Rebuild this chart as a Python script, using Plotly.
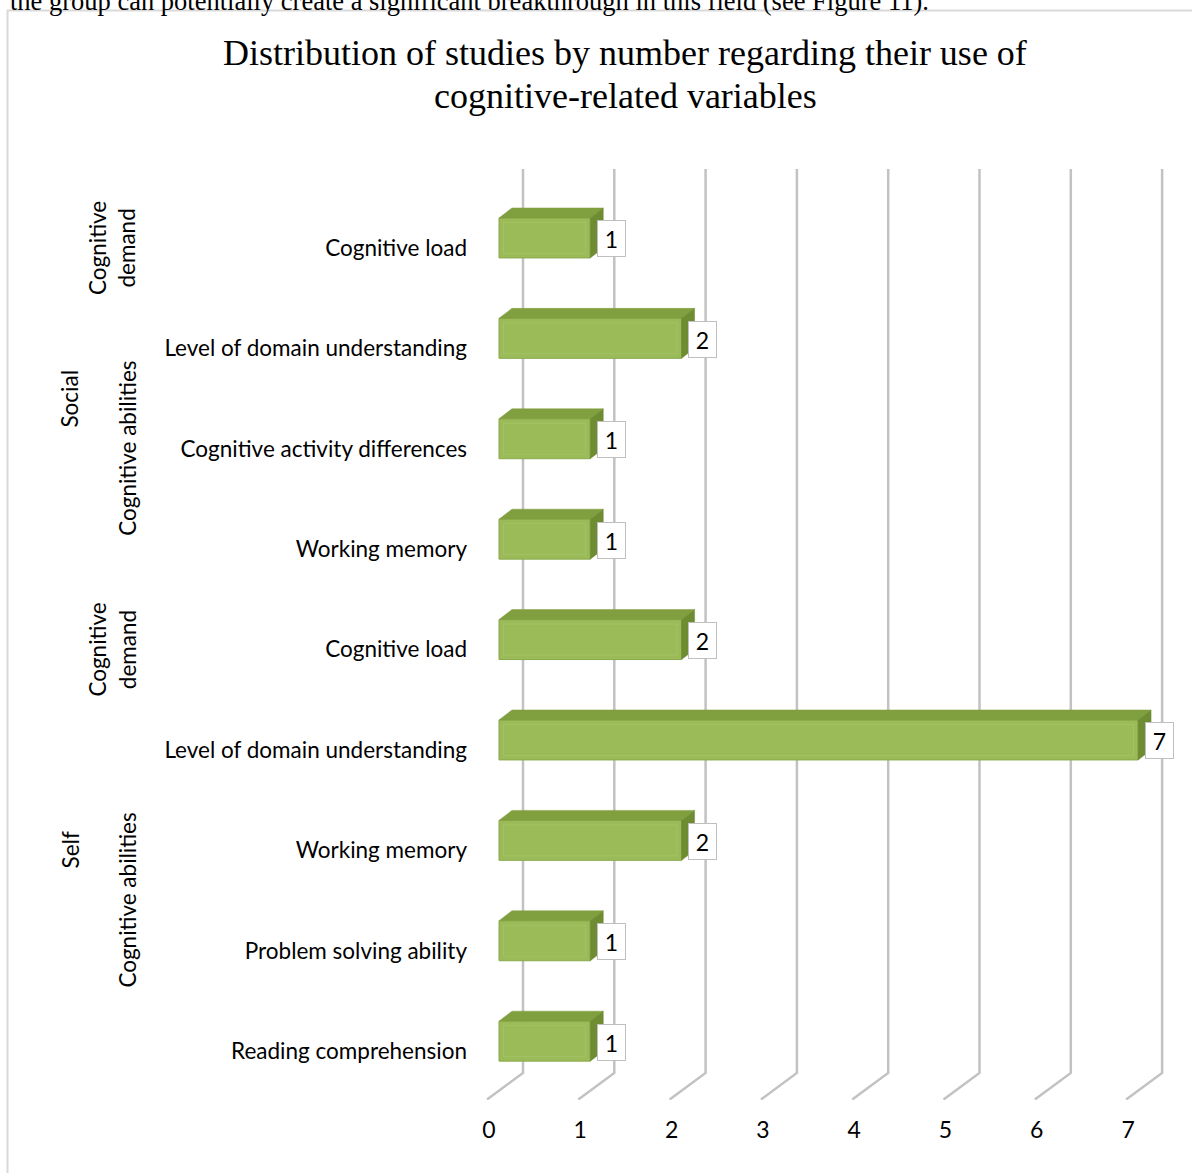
import plotly.graph_objects as go

# ---- data -------------------------------------------------------------
groups = ["Social", "Social", "Social", "Social",
          "Self", "Self", "Self", "Self", "Self"]
subgroups = ["Cognitive demand", "Cognitive abilities", "Cognitive abilities",
             "Cognitive abilities", "Cognitive demand", "Cognitive abilities",
             "Cognitive abilities", "Cognitive abilities", "Cognitive abilities"]
categories = ["Cognitive load", "Level of domain understanding",
              "Cognitive activity differences", "Working memory",
              "Cognitive load", "Level of domain understanding",
              "Working memory", "Problem solving ability",
              "Reading comprehension"]
values = [1, 2, 1, 1, 2, 7, 2, 1, 1]
x_ticks = [0, 1, 2, 3, 4, 5, 6, 7]

title_lines = ["Distribution of studies by number regarding their use of",
               "cognitive-related variables"]
body_text = ("the group can potentially create a significant breakthrough "
             "in this field (see Figure 11).")

# ---- layout constants ---------------------------------------------------
W, H = 1192, 1173
ML, MR, MT, MB = 480, 12, 150, 73
PW, PH = W - ML - MR, H - MT - MB
X_RANGE = [-0.208, 7.459]
Y_RANGE = [8.486, -0.976]          # rows run top -> bottom

SANS = "Lato"
SERIF = "Liberation Serif"
FS = 22.5

# 3-D look of the bars (in axis units)
BAR_W, BAR_OFF = 0.398, -0.299
DX, DY = 0.142, 0.0996
INSET_X, INSET_Y = 0.05, 0.045
FRONT, TOP, SIDE = "#9bbb59", "#809f3f", "#6e8c31"

# wall / floor of the 3-D grid
GRID_TOP, GRID_BOT, FLOOR_END = -0.787, 8.217, 8.481
BACK_SHIFT, FRONT_SHIFT = 0.263, -0.131


def px_x(p):
    return (p - ML) / PW


def px_y(p):
    return 1 - (p - MT) / PH


rows = list(range(len(categories)))
fig = go.Figure()

# front faces
fig.add_trace(go.Bar(
    y=rows, x=values, orientation="h", width=BAR_W, offset=BAR_OFF,
    marker=dict(color=FRONT, line=dict(color="#8aa94b", width=1)),
    hoverinfo="skip", showlegend=False))

# soft bevel highlight inside each front face
fig.add_trace(go.Bar(
    y=rows, x=[v - 2 * INSET_X for v in values], base=INSET_X,
    orientation="h", width=BAR_W - 2 * INSET_Y, offset=BAR_OFF + INSET_Y,
    marker=dict(color="rgba(0,0,0,0)",
                line=dict(color="rgba(172,204,112,0.45)", width=1)),
    hoverinfo="skip", showlegend=False))

# top and end faces
top_x, top_y, side_x, side_y = [], [], [], []
for r, v in zip(rows, values):
    y0 = r + BAR_OFF
    y1 = y0 + BAR_W
    top_x += [0, v, v + DX, DX, 0, None]
    top_y += [y0, y0, y0 - DY, y0 - DY, y0, None]
    side_x += [v, v + DX, v + DX, v, v, None]
    side_y += [y0, y0 - DY, y1 - DY, y1, y0, None]

fig.add_trace(go.Scatter(x=top_x, y=top_y, fill="toself", fillcolor=TOP,
                         mode="lines", line=dict(width=0.5, color=TOP),
                         hoverinfo="skip", showlegend=False))
fig.add_trace(go.Scatter(x=side_x, y=side_y, fill="toself", fillcolor=SIDE,
                         mode="lines", line=dict(width=0.5, color=SIDE),
                         hoverinfo="skip", showlegend=False))

shapes = []
# perspective grid: back-wall verticals bending onto the floor
for k in x_ticks:
    xb = k + BACK_SHIFT
    xf = k + FRONT_SHIFT
    shapes.append(dict(
        type="path", xref="x", yref="y", layer="below",
        path=f"M {xb},{GRID_TOP} L {xb},{GRID_BOT} L {xf},{FLOOR_END}",
        line=dict(color="#c2c2c2", width=2.5)))

# chart frame
shapes.append(dict(type="rect", xref="paper", yref="paper", layer="below",
                   x0=px_x(7.5), y0=px_y(1300), x1=px_x(1300), y1=px_y(10.5),
                   line=dict(color="#d9d9d9", width=2), fillcolor="rgba(0,0,0,0)"))

annotations = []
# value labels
for r, v in zip(rows, values):
    annotations.append(dict(
        x=v + 0.23, y=r - 0.09, xref="x", yref="y", text=str(v),
        showarrow=False, xanchor="center", yanchor="middle",
        font=dict(family=SANS, size=23, color="#000000"),
        bgcolor="#ffffff", bordercolor="#bfbfbf", borderwidth=1,
        borderpad=3, width=21, height=29))


def runs(labels):
    out, start = [], 0
    for i in range(1, len(labels) + 1):
        if i == len(labels) or labels[i] != labels[start]:
            out.append((labels[start], start, i - 1))
            start = i
    return out


# group labels (two outer category levels)
for name, a, b in runs([g + "|" + s for g, s in zip(groups, subgroups)]):
    sub = name.split("|")[1]
    text = sub.replace(" ", "<br>") if a == b else sub
    xc = 112 if a == b else 128
    annotations.append(dict(
        x=px_x(xc), xref="paper", y=(a + b) / 2, yref="y", text=text,
        textangle=-90, showarrow=False, xanchor="center", yanchor="middle",
        font=dict(family=SANS, size=FS, color="#000000")))
for name, a, b in runs(groups):
    annotations.append(dict(
        x=px_x(70), xref="paper", y=(a + b) / 2, yref="y", text=name,
        textangle=-90, showarrow=False, xanchor="center", yanchor="middle",
        font=dict(family=SANS, size=FS, color="#000000")))

# chart title
for text, yc in zip(title_lines, [53, 96]):
    annotations.append(dict(
        x=px_x(625), xref="paper", y=px_y(yc), yref="paper", text=text,
        showarrow=False, xanchor="center", yanchor="middle",
        font=dict(family=SERIF, size=36, color="#000000")))

# running text of the page above the chart
annotations.append(dict(
    x=px_x(8), xref="paper", y=px_y(18), yref="paper", text=body_text,
    showarrow=False, xanchor="left", yanchor="bottom",
    font=dict(family=SERIF, size=26.5, color="#000000")))

fig.update_layout(
    width=W, height=H, barmode="overlay",
    margin=dict(l=ML, r=MR, t=MT, b=MB, pad=0),
    paper_bgcolor="#ffffff", plot_bgcolor="#ffffff",
    showlegend=False, shapes=shapes, annotations=annotations,
    xaxis=dict(range=X_RANGE, showgrid=False, zeroline=False, showline=False,
               tickmode="array", tickvals=[k - 0.11 for k in x_ticks],
               ticktext=[str(k) for k in x_ticks], ticks="",
               ticklabelstandoff=14,
               tickfont=dict(family=SANS, size=23, color="#000000"),
               fixedrange=True),
    yaxis=dict(range=Y_RANGE, showgrid=False, zeroline=False, showline=False,
               tickmode="array", tickvals=rows, ticktext=categories, ticks="",
               ticklabelstandoff=12,
               tickfont=dict(family=SANS, size=FS, color="#000000"),
               fixedrange=True),
)

fig.write_html("out.html")
